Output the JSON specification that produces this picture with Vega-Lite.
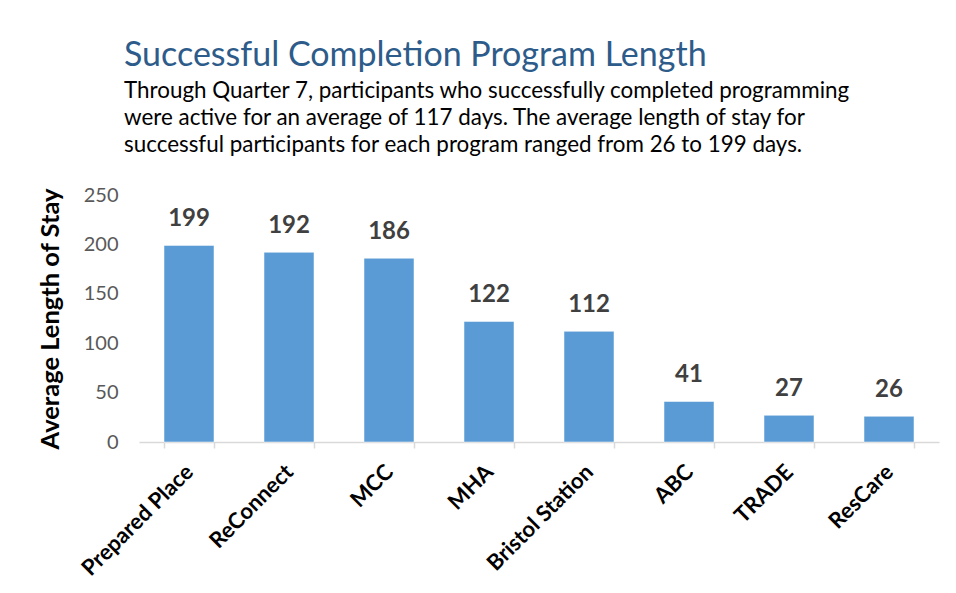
{
  "$schema": "https://vega.github.io/schema/vega-lite/v6.json",
  "width": 800,
  "height": 247,
  "autosize": {"type": "none"},
  "padding": {"left": 139, "top": 195, "right": 17, "bottom": 151},
  "background": "white",
  "config": {"view": {"stroke": null}, "font": "Lato"},
  "title": {
    "text": "Successful Completion Program Length",
    "subtitle": ["Through Quarter 7, participants who successfully completed programming", "were active for an average of 117 days. The average length of stay for", "successful participants for each program ranged from 26 to 199 days."],
    "anchor": "start",
    "frame": "group",
    "dx": -15,
    "font": "Lato",
    "fontSize": 34,
    "fontWeight": "normal",
    "color": "#2e5c8a",
    "subtitleFont": "Lato",
    "subtitleFontSize": 22.4,
    "subtitleColor": "#000000",
    "subtitleLineHeight": 27,
    "subtitlePadding": 7,
    "offset": 29
  },
  "data": {"values": [
    {"program": "Prepared Place", "days": 199},
    {"program": "ReConnect", "days": 192},
    {"program": "MCC", "days": 186},
    {"program": "MHA", "days": 122},
    {"program": "Bristol Station", "days": 112},
    {"program": "ABC", "days": 41},
    {"program": "TRADE", "days": 27},
    {"program": "ResCare", "days": 26}
  ]},
  "encoding": {
    "x": {
      "field": "program", "type": "nominal", "sort": null,
      "scale": {"paddingInner": 0.5, "paddingOuter": 0.25},
      "axis": {
        "title": null, "labelAngle": -45, "labelAlign": "right", "labelBaseline": "middle",
        "labelFont": "Lato", "labelFontSize": 22, "labelFontWeight": "bold", "labelColor": "#000000",
        "domainColor": "#d9d9d9", "domainWidth": 1.5, "tickColor": "#d9d9d9", "tickWidth": 1.5, "tickSize": 6,
        "tickBand": "extent", "labelPadding": 20
      }
    },
    "y": {
      "field": "days", "type": "quantitative",
      "scale": {"domain": [0, 250]},
      "axis": {
        "title": "Average Length of Stay", "titleFont": "Lato", "titleFontSize": 25.5, "titleFontWeight": "bold", "titleColor": "#000000", "titlePadding": 20,
        "values": [0, 50, 100, 150, 200, 250],
        "labelFont": "Lato", "labelFontSize": 20, "labelColor": "#595959", "labelPadding": 21,
        "domain": false, "ticks": false, "grid": false
      }
    }
  },
  "layer": [
    {"mark": {"type": "bar", "color": "#5b9bd5", "stroke": "#ffffff", "strokeWidth": 0.5}},
    {"mark": {"type": "text", "baseline": "bottom", "dy": -14, "font": "Lato", "fontSize": 24, "fontWeight": "bold", "color": "#404040"},
     "encoding": {"text": {"field": "days", "type": "quantitative"}}}
  ]
}
